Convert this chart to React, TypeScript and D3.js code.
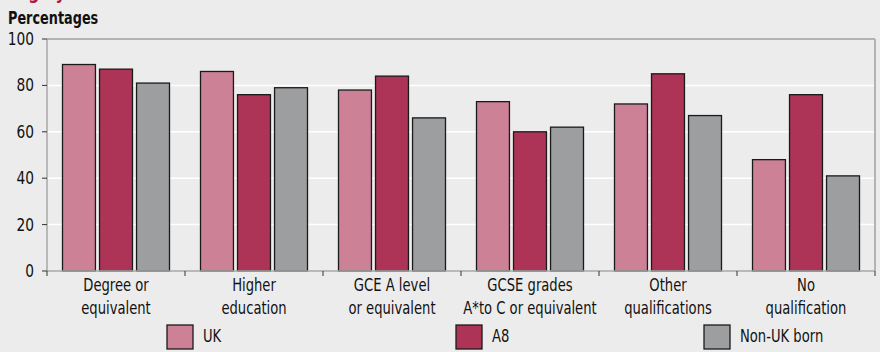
import React from "react";
import * as d3 from "d3";

const categories = [
  ["Degree or", "equivalent"],
  ["Higher", "education"],
  ["GCE A level", "or equivalent"],
  ["GCSE grades", "A*to C or equivalent"],
  ["Other", "qualifications"],
  ["No", "qualification"],
];
const seriesNames = ["UK", "A8", "Non-UK born"];
const ukValues = [89, 86, 78, 73, 72, 48];
const a8Values = [87, 76, 84, 60, 85, 76];
const nonUkValues = [81, 79, 66, 62, 67, 41];
const yTicks = [0, 20, 40, 60, 80, 100];
const colors = ["#cd8197", "#ad3456", "#9d9ea0"];

const W = 880;
const H = 352;
const left = 47;
const right = 875;
const top = 39;
const bottom = 271;
const FONT = "'DejaVu Sans Condensed', 'Liberation Sans Narrow', sans-serif";
const SX = 0.86;

function NText(props: {
  x: number;
  y: number;
  children: React.ReactNode;
  anchor?: "start" | "middle" | "end";
  size?: number;
  weight?: string;
  fill?: string;
  sx?: number;
  dy?: string;
}) {
  const { x, y, children, anchor = "start", size = 17, weight = "normal", fill = "#111", sx = SX, dy } = props;
  return (
    <g transform={`translate(${x},${y}) scale(${sx},1)`}>
      <text x={0} y={0} dy={dy} textAnchor={anchor} fontSize={size} fontWeight={weight} fill={fill}>
        {children}
      </text>
    </g>
  );
}

export default function App() {
  React.useEffect(() => {
    document.body.style.margin = "0";
    document.body.style.background = "#ececec";
  }, []);
  const series = [ukValues, a8Values, nonUkValues];
  const x0 = d3
    .scaleBand<number>()
    .domain(d3.range(categories.length))
    .range([left, right])
    .paddingInner(0)
    .paddingOuter(0);
  const bw = x0.bandwidth();
  const groupW = 107;
  const x1 = d3
    .scaleBand<number>()
    .domain([0, 1, 2])
    .range([(bw - groupW) / 2, (bw + groupW) / 2])
    .paddingInner(0.11)
    .paddingOuter(0);
  const y = d3.scaleLinear().domain([0, 100]).range([bottom, top]);
  const legendX = [167, 456, 704];

  return (
    <svg width={W} height={H} style={{ display: "block", background: "#ececec" }} fontFamily={FONT}>
      <rect x={0} y={0} width={W} height={H} fill="#ececec" />
      <NText x={10} y={-1} size={20} weight="bold" fill="#b3174b">
        Highly
      </NText>
      <NText x={8} y={24} size={17} weight="bold" sx={0.84}>
        Percentages
      </NText>
      {yTicks
        .filter((t) => t > 0 && t < 100)
        .map((t) => (
          <line key={"g" + t} x1={left} x2={right} y1={y(t)} y2={y(t)} stroke="#ffffff" strokeWidth={1.5} />
        ))}
      <line x1={left} x2={right} y1={top} y2={top} stroke="#b3b3b3" strokeWidth={2} />
      <line x1={right} x2={right} y1={top} y2={bottom} stroke="#b3b3b3" strokeWidth={2} />
      {series.map((vals, si) =>
        vals.map((v, ci) => (
          <rect
            key={si + "-" + ci}
            x={(x0(ci) as number) + (x1(si) as number)}
            y={y(v)}
            width={x1.bandwidth()}
            height={bottom - y(v)}
            fill={colors[si]}
            stroke="#1a1a1a"
            strokeWidth={1.3}
          />
        ))
      )}
      <line x1={left} x2={left} y1={top} y2={bottom} stroke="#a8a8a8" strokeWidth={1.5} />
      <line x1={left} x2={right} y1={bottom} y2={bottom} stroke="#a8a8a8" strokeWidth={1.5} />
      {yTicks.map((t) => (
        <g key={"t" + t}>
          <line x1={left - 5} x2={left} y1={y(t)} y2={y(t)} stroke="#333" strokeWidth={1} />
          <NText x={34} y={y(t)} dy="0.35em" anchor="end" size={17} sx={0.9}>
            {t}
          </NText>
        </g>
      ))}
      {d3.range(categories.length + 1).map((i) => {
        const xx = i < categories.length ? (x0(i) as number) : right;
        return <line key={"ct" + i} x1={xx} x2={xx} y1={bottom} y2={bottom + 5} stroke="#333" strokeWidth={1} />;
      })}
      {categories.map((lines, ci) => (
        <g key={"c" + ci}>
          <NText x={(x0(ci) as number) + bw / 2} y={291} anchor="middle">
            {lines[0]}
          </NText>
          <NText x={(x0(ci) as number) + bw / 2} y={313.5} anchor="middle">
            {lines[1]}
          </NText>
        </g>
      ))}
      {seriesNames.map((n, i) => (
        <g key={"l" + i}>
          <rect x={legendX[i]} y={325} width={26} height={24} fill={colors[i]} stroke="#1a1a1a" strokeWidth={1.3} />
          <NText x={legendX[i] + 36} y={342}>
            {n}
          </NText>
        </g>
      ))}
    </svg>
  );
}
